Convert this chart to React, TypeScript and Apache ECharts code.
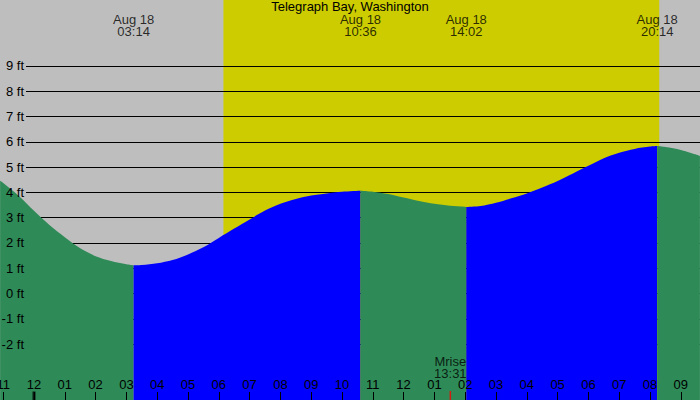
import React, { useEffect, useRef } from "react";
import * as echarts from "echarts";

const TITLE = "Telegraph Bay, Washington";
const DATE_LABEL = "Aug 18";

// predicted tide height (ft) at time (hours after midnight, Aug 18)
const tideHours = [
  -1.1, -1, -0.5, 0, 0.5, 1, 1.5, 2, 2.5, 3, 3.5, 4, 4.5, 5, 5.5, 6, 6.5, 7, 7.5, 8, 8.5, 9, 9.5, 10,
  11, 11.5, 12, 12.5, 13, 13.5, 14, 14.5, 15, 15.5, 16, 16.5, 17, 17.5, 18, 18.5, 19, 19.5, 20,
  20.5, 21, 21.62,
];
const tideFeet = [
  4.46, 4.37, 3.87, 3.27, 2.71, 2.23, 1.79, 1.48, 1.29, 1.16, 1.13, 1.2, 1.33, 1.55, 1.83, 2.2, 2.57, 2.93, 3.28, 3.55, 3.74, 3.88, 3.96, 4.03,
  4.03, 3.94, 3.8, 3.66, 3.55, 3.47, 3.43, 3.46, 3.59, 3.77, 3.96, 4.19, 4.45, 4.75, 5.05, 5.35, 5.57, 5.72, 5.81,
  5.79, 5.68, 5.45,
];

// high / low tide events
const extremeTimes = ["03:14", "10:36", "14:02", "20:14"];
const extremeFeet = [1.12, 4.07, 3.42, 5.83];

const sunriseTime = "06:09";
const sunsetTime = "20:18";
const moonriseTime = "13:31";

const hourTicks = [-1, 0, 1, 2, 3, 4, 5, 6, 7, 8, 9, 10, 11, 12, 13, 14, 15, 16, 17, 18, 19, 20, 21];
const footTicks = [-2, -1, 0, 1, 2, 3, 4, 5, 6, 7, 8, 9];

// colors
const SKY_NIGHT = "#BEBEBE";
const SKY_DAY = "#CCCC00";
const FALLING = "#2E8B57";
const RISING = "#0000FF";
const FONT = "Liberation Sans";
const FONT_SIZE = 13;

// axis window
const X_MIN = -1.104;
const X_MAX = 21.623;
const Y_MIN = -4.206;
const Y_MAX = 11.605;
const W = 700;
const H = 400;

const toHours = (t: string) => {
  const [h, m] = t.split(":").map(Number);
  return h + m / 60;
};
const pxToFt = (py: number) => Y_MAX - (py / H) * (Y_MAX - Y_MIN);
const pxToHours = (px: number) => X_MIN + (px / W) * (X_MAX - X_MIN);

function buildOption() {
  const exH = extremeTimes.map(toHours);
  const pts: [number, number][] = tideHours.map((h, i) => [h, tideFeet[i]] as [number, number]);
  exH.forEach((h, i) => pts.push([h, extremeFeet[i]]));
  pts.sort((a, b) => a[0] - b[0]);

  const bounds = [pts[0][0], ...exH, pts[pts.length - 1][0]];
  const segs: any[] = [];
  for (let i = 0; i < bounds.length - 1; i++) {
    const a = bounds[i];
    const b = bounds[i + 1];
    const d = pts.filter((p) => p[0] >= a - 1e-9 && p[0] <= b + 1e-9);
    const rising = d[d.length - 1][1] > d[0][1];
    const color = rising ? RISING : FALLING;
    segs.push({
      type: "line",
      data: d,
      smooth: 0.3,
      showSymbol: false,
      symbol: "none",
      lineStyle: { width: 0, color },
      itemStyle: { color },
      areaStyle: { color, opacity: 1, origin: "start" },
      z: 10,
      silent: true,
      animation: false,
    });
  }

  const lineStartH = pxToHours(26);

  const helper = {
    type: "line",
    data: [],
    silent: true,
    z: 2,
    markArea: {
      silent: true,
      z: 1,
      itemStyle: { color: SKY_DAY, opacity: 1 },
      label: { show: false },
      data: [[{ xAxis: toHours(sunriseTime) }, { xAxis: toHours(sunsetTime) }]],
    },
    markLine: {
      silent: true,
      z: 3,
      symbol: ["none", "none"],
      label: { show: false },
      lineStyle: { color: "#000", width: 1, type: "solid", opacity: 1 },
      data: footTicks.map((v) => [{ coord: [lineStartH, v] }, { coord: [X_MAX, v] }]),
    },
  };

  const textLabel = {
    show: true,
    position: "inside",
    color: "#000",
    fontFamily: FONT,
    fontSize: FONT_SIZE,
    align: "center",
    verticalAlign: "middle",
  };

  const events = {
    type: "scatter",
    z: 20,
    silent: true,
    clip: false,
    symbolSize: 0,
    data: extremeTimes.map((t) => ({ value: [toHours(t), pxToFt(25.5)], name: t })),
    label: { ...textLabel, lineHeight: 12.5, formatter: (p: any) => `${DATE_LABEL}\n${p.name}` },
  };

  const moon = {
    type: "scatter",
    z: 20,
    silent: true,
    clip: false,
    symbolSize: 0,
    data: [{ value: [toHours(moonriseTime), pxToFt(367.5)], name: moonriseTime }],
    label: { ...textLabel, lineHeight: 12, formatter: (p: any) => `Mrise\n${p.name}` },
  };

  const marks = {
    type: "scatter",
    z: 25,
    silent: true,
    clip: false,
    symbol: "rect",
    data: [
      { value: [0, Y_MIN], symbolSize: [3, 17], itemStyle: { color: "#000" } },
      { value: [toHours(moonriseTime), Y_MIN], symbolSize: [1.5, 18], itemStyle: { color: "#FF0000" } },
    ],
  };

  return {
    animation: false,
    backgroundColor: SKY_NIGHT,
    grid: { left: 0, right: 0, top: 0, bottom: 0, containLabel: false, outerBoundsMode: "none" },
    graphic: [
      {
        type: "text",
        left: "center",
        top: 0,
        z: 50,
        style: { text: TITLE, fill: "#000", font: `${FONT_SIZE}px "${FONT}"` },
      },
    ],
    xAxis: {
      type: "value",
      min: X_MIN,
      max: X_MAX,
      z: 30,
      axisLine: { show: false, onZero: false },
      splitLine: { show: false },
      axisTick: {
        show: true,
        inside: true,
        length: 8,
        customValues: hourTicks,
        lineStyle: { color: "#000", width: 1 },
      },
      axisLabel: {
        show: true,
        inside: true,
        margin: 9,
        customValues: hourTicks,
        color: "#000",
        fontFamily: FONT,
        fontSize: FONT_SIZE,
        formatter: (v: number) => {
          const h = ((Math.round(v) % 12) + 12) % 12;
          return String(h === 0 ? 12 : h).padStart(2, "0");
        },
      },
    },
    yAxis: {
      type: "value",
      min: Y_MIN,
      max: Y_MAX,
      z: 30,
      axisLine: { show: false, onZero: false },
      axisTick: { show: false },
      splitLine: { show: false },
      axisLabel: {
        show: true,
        inside: true,
        margin: 24,
        align: "right",
        customValues: footTicks,
        color: "#000",
        fontFamily: FONT,
        fontSize: FONT_SIZE,
        formatter: (v: number) => `${v} ft`,
      },
    },
    series: [helper, ...segs, events, moon, marks],
  };
}

export default function App() {
  const ref = useRef<HTMLDivElement>(null);
  useEffect(() => {
    if (!ref.current) return;
    const chart = echarts.init(ref.current, undefined, { renderer: "svg" });
    chart.setOption(buildOption() as any);
    return () => chart.dispose();
  }, []);
  return (
    <div
      ref={ref}
      style={{ position: "fixed", left: 0, top: 0, width: W, height: H }}
    />
  );
}
